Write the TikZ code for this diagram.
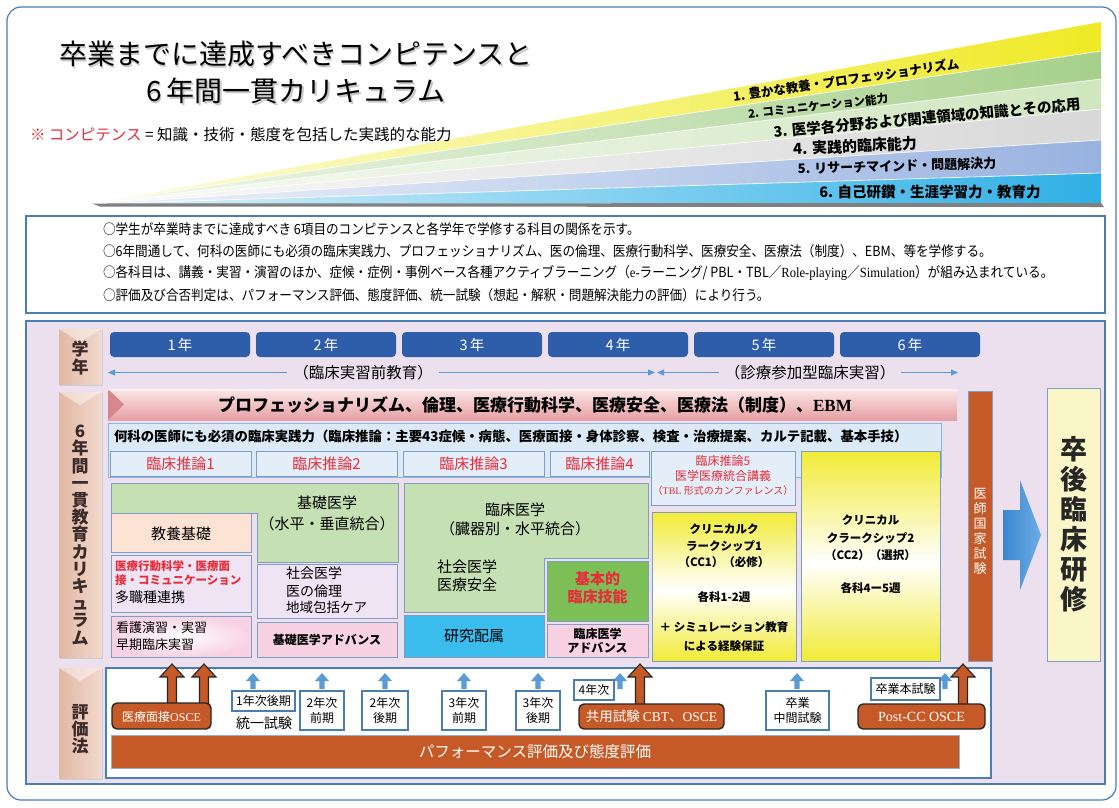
\documentclass[tikz,border=0pt]{standalone}
\usepackage{fontspec}
\setmainfont{Noto Sans CJK JP}
\newfontfamily\tnr{Liberation Serif}
\usetikzlibrary{arrows.meta}
\newcommand\fz[2]{\fontsize{#1pt}{#2pt}\selectfont}
\newcommand\narrow[1]{\scalebox{0.9}[1]{#1}}
\definecolor{frameblue}{HTML}{4A7DB3}
\definecolor{panel}{HTML}{ECDFEE}
\definecolor{yearblue}{HTML}{2E5DAA}
\definecolor{lineblue}{HTML}{5B9BD5}
\definecolor{brick}{HTML}{C55A28}
\definecolor{jred}{HTML}{E62E3B}
\definecolor{lgreen}{HTML}{C5E0B3}
\definecolor{dgreen}{HTML}{7CBF57}
\definecolor{peach}{HTML}{FCE3D3}
\definecolor{lav}{HTML}{EFE4F3}
\definecolor{pinkbox}{HTML}{F8D2E3}
\definecolor{cyanbox}{HTML}{3ABDEC}
\definecolor{ccyellow}{HTML}{F1EB35}
\definecolor{contfill}{HTML}{DCEAF7}
\definecolor{contline}{HTML}{8DB4E2}
\definecolor{boxline}{HTML}{7E9EC7}
\definecolor{tabL}{HTML}{E2B8A4}
\definecolor{tabR}{HTML}{F2D9CC}
\definecolor{tabtext}{HTML}{3B2B2B}
\definecolor{paleyellow}{HTML}{FAF6C7}
\definecolor{arrL}{HTML}{3C85CF}
\definecolor{arrR}{HTML}{6BAEE6}
\definecolor{pinkA}{HTML}{FCE6E6}
\definecolor{pinkB}{HTML}{E6A0A4}
\definecolor{pinkC}{HTML}{D7868C}
\definecolor{bA}{HTML}{EFEA25}
\definecolor{bB}{HTML}{A6D08A}
\definecolor{bC}{HTML}{CFE6BE}
\definecolor{bD}{HTML}{D8D8D8}
\definecolor{bE}{HTML}{98B2E0}
\definecolor{bF}{HTML}{2FB0E6}
\begin{document}
\begin{tikzpicture}[x=1pt,y=-1pt,every node/.style={inner sep=0pt,outer sep=0pt},
  gbox/.style={draw=boxline,line width=0.7pt},
  lbl/.style={draw=frameblue,line width=1.3pt,fill=white},
  brbox/.style={draw=black!85,line width=1.4pt,fill=brick,rounded corners=5pt},
  tabtxt/.style={font=\fz{17}{17.2}\bfseries,text=tabtext,align=center},
  tabbox/.style={left color=tabL,right color=tabR},
  evtxt/.style={font=\fz{12}{15},align=center},
  yrtxt/.style={font=\fz{14.5}{15},text=white},
  cinfo/.style={font=\fz{15}{19},text=jred},
  bandtxt/.style={font=\bfseries},
  bul/.style={font=\fz{14}{14},anchor=west},
  pics/bluearrow/.style={code={\fill[lineblue] (-2.7,0) -- (-2.7,-8) -- (-7,-8) -- (0,-16) -- (7,-8) -- (2.7,-8) -- (2.7,0) -- cycle;}},
  pics/brownarrow/.style={code={\filldraw[fill=brick,draw=black!85,line width=1.1pt] (-4.5,2) -- (-4.5,{13-#1}) -- (-12,{13-#1}) -- (0,{-#1}) -- (12,{13-#1}) -- (4.5,{13-#1}) -- (4.5,2);}}
]
\useasboundingbox (0,0) rectangle (1119,807);
\fill[white] (0,0) rectangle (1119,807);
\draw[frameblue,line width=1.2pt,rounded corners=14pt] (7,7) rectangle (1116,800);

% ---------- competency wedge ----------
\foreach \ya/\yb/\c in {22/51/bA,51/79/bB,79/109/bC,109/140/bD,140/173/bE,173/203/bF}{
  \shade[left color=\c!15,right color=\c] (90,204) -- (1101,\ya) -- (1101,\yb) -- cycle;
}
\foreach \ya in {51,79,109,140,173}{\draw[white,line width=0.8pt,opacity=0.8] (90,204) -- (1101,\ya);}
\fill[black!50] (92,203.5) -- (1101,203) -- (1104,207) -- (100,206.5) -- cycle;
\node[bandtxt,font=\fz{12.5}{13}\bfseries,rotate=8.3] (c1) at (846,80) {1. 豊かな教養・プロフェッショナリズム};
\node[bandtxt,font=\fz{11.5}{12}\bfseries,rotate=6.3] (c2) at (818,106) {2. コミュニケーション能力};
\node[bandtxt,font=\fz{14.5}{15}\bfseries,rotate=5.2] (c3) at (927,118) {3. 医学各分野および関連領域の知識とその応用};
\node[bandtxt,font=\fz{15}{15}\bfseries,rotate=2.7] (c4) at (855,146) {4. 実践的臨床能力};
\node[bandtxt,font=\fz{13}{13}\bfseries,rotate=1.6] (c5) at (897,166) {5. リサーチマインド・問題解決力};
\node[bandtxt,font=\fz{14.5}{15}\bfseries] (c6) at (930,192) {6. 自己研鑽・生涯学習力・教育力};

% ---------- title ----------
\node[font=\fz{28}{28},text=black!22] (t1s) at (297.5,55.5) {卒業までに達成すべきコンピテンスと};
\node[font=\fz{28}{28}] (t1) at (296,54) {卒業までに達成すべきコンピテンスと};
\node[font=\fz{28}{28},text=black!22] (t2s) at (297.5,92.5) {6\,年間一貫カリキュラム};
\node[font=\fz{28}{28}] (t2) at (296,91) {6\,年間一貫カリキュラム};
\node[font=\fz{15.5}{16},anchor=west] (note) at (30,135) {\textcolor{jred}{※ コンピテンス} = 知識・技術・態度を包括した実践的な能力};

% ---------- bullet box ----------
\draw[frameblue,line width=1.3pt,fill=white] (26,216) rectangle (1105,313);
\node[bul] (l1) at (103,229) {\narrow{○学生が卒業時までに達成すべき 6項目のコンピテンスと各学年で学修する科目の関係を示す。}};
\node[bul] (l2) at (103,251.5) {\narrow{○6年間通して、何科の医師にも必須の臨床実践力、プロフェッショナリズム、医の倫理、医療行動科学、医療安全、医療法（制度）、EBM、等を学修する。}};
\node[bul] (l3) at (103,273.5) {\narrow{○各科目は、講義・実習・演習のほか、症候・症例・事例ベース各種アクティブラーニング（{\tnr e-}ラーニング/ PBL・TBL／{\tnr Role-playing}／{\tnr Simulation}）が組み込まれている。}};
\node[bul] (l4) at (103,295.5) {\narrow{○評価及び合否判定は、パフォーマンス評価、態度評価、統一試験（想起・解釈・問題解決能力の評価）により行う。}};

% ---------- curriculum panel ----------
\draw[frameblue,line width=1.3pt,fill=panel] (26,321) rectangle (1105,784);
\foreach \ya/\yb in {329/384,392/657,668/778}{
  \shade[tabbox] (59,\ya) rectangle (101,\yb);
  \fill[white,opacity=0.45] (59,\ya) -- (101,\ya) -- (80,\ya+13) -- cycle;
  \draw[black!20,line width=1pt] (60,\yb+1) -- (102,\yb+1) -- (102,\ya+1);
}
\node[tabtxt] (tabA) at (80,358) {学\\年};
\node[tabtxt] (tabB) at (80,535) {6\\年\\間\\一\\貫\\教\\育\\カ\\リ\\キ\\ュ\\ラ\\ム};
\node[tabtxt] (tabC) at (80,729) {評\\価\\法};

% years
\foreach \i in {0,...,5}{
  \pgfmathsetmacro\xa{110+146*\i}
  \pgfmathtruncatemacro\n{\i+1}
  \fill[yearblue,rounded corners=4pt] (\xa,332) rectangle ++(140,25);
  \node[yrtxt] (yr\n) at (\xa+70,344.5) {\n\,年};
}
\coordinate (pa) at (108,372.5);
\coordinate (pb) at (655,372.5);
\coordinate (pc) at (657,372.5);
\coordinate (pd) at (958,372.5);
\draw[lineblue,line width=0.9pt,{Triangle[length=7pt,width=6pt]}-{Triangle[length=7pt,width=6pt]}] (pa) -- (pb);
\draw[lineblue,line width=0.9pt,{Triangle[length=7pt,width=6pt]}-{Triangle[length=7pt,width=6pt]}] (pc) -- (pd);
\node[font=\fz{15.5}{16},fill=panel,inner xsep=6pt,inner ysep=2pt] (pre) at (363,372.5) {（臨床実習前教育）};
\node[font=\fz{15.5}{16},fill=panel,inner xsep=6pt,inner ysep=2pt] (cc) at (810,372.5) {（診療参加型臨床実習）};

% banner
\shade[top color=pinkA,bottom color=pinkB] (108,389) rectangle (957,420);
\fill[pinkC] (108,389) -- (124,404.5) -- (108,420) -- cycle;
\fill[white,opacity=0.5] (108,389) rectangle (957,391);
\node[font=\fz{17}{17}\bfseries] (prof) at (535,404.5) {プロフェッショナリズム、倫理、医療行動科学、医療安全、医療法（制度）、{\tnr\bfseries EBM}};

% light blue container
\draw[draw=contline,fill=contfill,line width=0.8pt] (108,423) rectangle (941,477);
\node[font=\fz{13.4}{14}\bfseries,anchor=west] (prac) at (114,436.5) {何科の医師にも必須の臨床実践力（臨床推論：主要43症候・病態、医療面接・身体診察、検査・治療提案、カルテ記載、基本手技）};
\foreach \xa/\xb/\k in {110/251/1,256/397/2,403/544/3,550/649/4}{
  \draw[draw=boxline,fill=contfill!80!white,line width=0.8pt] (\xa,451) rectangle (\xb,476);
  \node[cinfo] (cr\k) at ({(\xa+\xb)/2},463.5) {臨床推論\k};
}
\draw[draw=boxline,fill=contfill!80!white,line width=0.8pt] (651,451) rectangle (795,505);
\node[text=jred,font=\fz{12}{14}] (cr5a) at (723,461) {臨床推論5};
\node[text=jred,font=\fz{12}{14}] (cr5b) at (723,476) {医学医療統合講義};
\node[text=jred,font=\fz{10}{12}] (cr5c) at (723,490.5) {（{\tnr TBL} 形式のカンファレンス）};

% grid: basic medicine
\draw[gbox,fill=lgreen] (111,483) -- (398,483) -- (398,562) -- (257,562) -- (257,513) -- (111,513) -- cycle;
\node[font=\fz{15}{15}] (kiso1) at (327,503) {基礎医学};
\node[font=\fz{15}{15}] (kiso2) at (327,524) {（水平・垂直統合）};
\draw[gbox,fill=peach] (111,513) rectangle (251,552);
\node[font=\fz{15}{15}] (kyoyo) at (181,533.5) {教養基礎};
\draw[gbox,fill=lav] (111,555) rectangle (251,612);
\node[font=\fz{11.5}{12}\bfseries,text=jred,anchor=west] (kodo1) at (115,566) {医療行動科学・医療面};
\node[font=\fz{11.5}{12}\bfseries,text=jred,anchor=west] (kodo2) at (115,580) {接・コミュニケーション};
\node[font=\fz{14}{14},anchor=west] (kodo3) at (115,597) {多職種連携};
\shade[inner color=white,outer color=pinkbox] (111,616) rectangle (251,657);
\draw[gbox] (111,616) rectangle (251,657);
\node[font=\fz{13}{13},anchor=west] (kango1) at (116,628) {看護演習・実習};
\node[font=\fz{13}{13},anchor=west] (kango2) at (116,645) {早期臨床実習};
\draw[gbox,fill=lav] (257,564) rectangle (397,618);
\node[font=\fz{14}{14},anchor=west] (sha1) at (286,573) {社会医学};
\node[font=\fz{14}{14},anchor=west] (sha2) at (286,591) {医の倫理};
\node[font=\fz{13.5}{14},anchor=west] (sha3) at (286,607) {地域包括ケア};
\draw[gbox,fill=pinkbox] (257,622) rectangle (397,657);
\node[font=\fz{12}{12}\bfseries] (kadv) at (327,640) {基礎医学アドバンス};

% grid: clinical medicine
\draw[gbox,fill=lgreen] (404,483) -- (648,483) -- (648,558) -- (544,558) -- (544,612) -- (404,612) -- cycle;
\node[font=\fz{15}{15}] (rin1) at (515,510) {臨床医学};
\node[font=\fz{15}{15}] (rin2) at (515,529) {（臓器別・水平統合）};
\node[font=\fz{15}{15},anchor=west] (rs1) at (437,567) {社会医学};
\node[font=\fz{15}{15},anchor=west] (rs2) at (437,585) {医療安全};
\draw[gbox,fill=cyanbox] (404,615) rectangle (544,657);
\node[font=\fz{15}{15}] (kenkyu) at (474,636) {研究配属};
\draw[gbox,fill=dgreen] (547,561) rectangle (648,621);
\node[font=\fz{15}{18}\bfseries,text=jred,align=center] (gino) at (597.5,588) {基本的\\臨床技能};
\draw[gbox,fill=pinkbox] (547,624) rectangle (648,657);
\node[font=\fz{12}{14.5}\bfseries,align=center] (radv) at (597.5,640.5) {臨床医学\\アドバンス};

% clinical clerkships
\shade[top color=ccyellow,bottom color=white] (652,512) rectangle (796,590);
\shade[top color=white,bottom color=ccyellow] (652,590) rectangle (796,661);
\draw[gbox] (652,512) rectangle (796,661);
\node[font=\fz{11.5}{16.5}\bfseries,align=center] (cc1a) at (724,546) {クリニカルク\\ラークシップ1\\（CC1）（必修）};
\node[font=\fz{11.5}{12}\bfseries] (cc1b) at (724,597) {各科1-2週};
\node[font=\fz{11.5}{19}\bfseries,align=center] (cc1c) at (724,636.5) {＋ シミュレーション教育\\による経験保証};
\shade[top color=ccyellow,bottom color=white] (801,451) rectangle (940,563);
\shade[top color=white,bottom color=ccyellow] (801,563) rectangle (940,661);
\draw[gbox] (801,451) rectangle (940,661);
\node[font=\fz{11.5}{17.5}\bfseries,align=center] (cc2a) at (870.5,538) {クリニカル\\クラークシップ2\\（CC2）（選択）};
\node[font=\fz{11.5}{12}\bfseries] (cc2b) at (870.5,588) {各科4ー5週};

% national exam, arrow, residency
\draw[draw=boxline,fill=brick,line width=0.7pt] (968,391) rectangle (992,661);
\node[font=\fz{13}{15},text=white,align=center] (kokka) at (980,531) {医\\師\\国\\家\\試\\験};
\shade[left color=arrL,right color=arrR] (1003,510) -- (1020,510) -- (1020,480) -- (1041,535) -- (1020,590) -- (1020,560) -- (1003,560) -- cycle;
\draw[draw=boxline,fill=paleyellow,line width=1pt] (1047,388) rectangle (1100,661);
\node[font=\fz{27}{30}\bfseries,align=center,text=black!85] (sotsugo) at (1073.5,524) {卒\\後\\臨\\床\\研\\修};

% ---------- evaluation ----------
\draw[frameblue,line width=1.3pt,fill=white] (106,668) rectangle (991,778);
\draw[draw=frameblue!60,fill=brick,line width=0.8pt] (111,735) rectangle (959,768);
\node[font=\fz{15.5}{16},text=white] (perf) at (535,752) {パフォーマンス評価及び態度評価};

\pic at (172,705) {brownarrow=41};
\pic at (204,705) {brownarrow=41};
\draw[brbox] (112,703) rectangle (211,729);
\node[font=\fz{12}{12},text=white] (osce1) at (161.5,716.5) {医療面接{\tnr OSCE}};

\foreach \x in {253,322,385,464,538,620,797,945}{\pic at (\x,689) {bluearrow};}

\draw[lbl] (232,691) rectangle (295,711);
\node[evtxt] (e1) at (263.5,701) {1年次後期};
\node[font=\fz{14}{14}] (toitsu) at (264,723) {統一試験};
\draw[lbl] (300,691) rectangle (344,730);
\node[evtxt] (e2) at (322,710.5) {2年次\\前期};
\draw[lbl] (362,691) rectangle (408,730);
\node[evtxt] (e3) at (385,710.5) {2年次\\後期};
\draw[lbl] (442,691) rectangle (486,730);
\node[evtxt] (e4) at (464,710.5) {3年次\\前期};
\draw[lbl] (516,691) rectangle (560,730);
\node[evtxt] (e5) at (538,710.5) {3年次\\後期};
\draw[lbl] (574,680) rectangle (614,700);
\node[evtxt] (e6) at (594,690) {4年次};
\pic at (640,705) {brownarrow=41};
\draw[brbox] (579,704) rectangle (724,729);
\node[font=\fz{13.5}{14},text=white] (cbt) at (651.5,716.5) {共用試験 {\tnr CBT}、{\tnr OSCE}};
\draw[lbl] (766,691) rectangle (829,730);
\node[evtxt] (e7) at (797.5,710.5) {卒業\\中間試験};
\draw[lbl] (871,678) rectangle (940,700);
\node[evtxt] (e8) at (905.5,689) {卒業本試験};
\pic at (963,705) {brownarrow=41};
\draw[brbox] (858,704) rectangle (985,729);
\node[font=\fz{14}{14}\tnr,text=white] (postcc) at (921.5,716.5) {Post-CC OSCE};
\end{tikzpicture}
\end{document}
